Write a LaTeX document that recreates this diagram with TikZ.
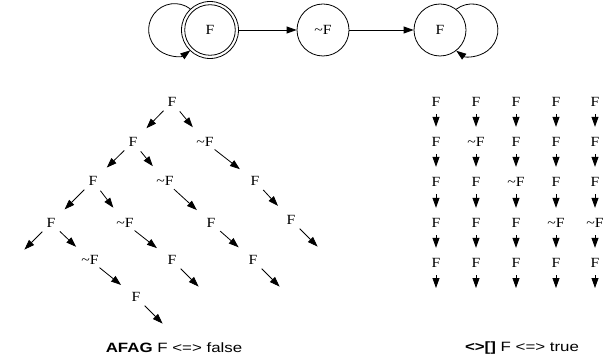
\documentclass[tikz,border=0pt]{standalone}
\usepackage{fontspec}
\setmainfont{Liberation Serif}[FakeStretch=1.12]
\newfontfamily\labfont{Liberation Sans}[FakeStretch=1.25]
\usetikzlibrary{arrows.meta}
\tikzset{
  arr/.style={-{Triangle[length=10pt,width=7pt]}, line width=0.8pt},
  st/.style={circle, draw, line width=0.8pt, minimum size=52pt, inner sep=0pt, font=\fontsize{14}{14}\selectfont},
  tn/.style={circle, minimum size=24pt, inner sep=0pt, font=\fontsize{14}{14}\selectfont},
  tedge/.style={arr, shorten >=7pt},
  gedge/.style={arr, shorten >=3pt},
  lab/.style={font=\labfont\fontsize{13.5}{13.5}\selectfont, inner sep=0pt}
}
\newcommand{\nF}{\textasciitilde F}
\begin{document}
\begin{tikzpicture}[x=1pt,y=1pt]
\useasboundingbox (0,0) rectangle (605,359);
% automaton
\node[st, minimum size=57pt] (s0) at (210,329) {F};
\draw[line width=0.8pt] (s0.center) circle (25.3pt);
\node[st] (s1) at (323,329) {\nF};
\node[st] (s2) at (440,329) {F};
\draw[arr] (s0) -- (s1);
\draw[arr] (s1) -- (s2);
\draw[arr] (s0.133) arc[start angle=53, end angle=307, radius=26pt];
\draw[arr] (s2.52) arc[start angle=127, end angle=-127, radius=26pt];
% tree
\node[tn] (A0) at (172,257) {F};
\node[tn] (B0) at (133,217) {F};
\node[tn] (B1) at (205,217) {\nF};
\node[tn] (C0) at (93,178) {F};
\node[tn] (C1) at (165,178) {\nF};
\node[tn] (C2) at (255,178) {F};
\node[tn] (D0) at (51,136) {F};
\node[tn] (D1) at (125,136) {\nF};
\node[tn] (D2) at (211,136) {F};
\node[tn] (D3) at (291,139) {F};
\node[tn] (E1) at (90,99) {\nF};
\node[tn] (E2) at (172,99) {F};
\node[tn] (E3) at (253,99) {F};
\node[tn] (G0) at (136,62) {F};
\coordinate (L0) at (11,96);
\coordinate (L1) at (331,99);
\coordinate (L2) at (212,59);
\coordinate (L3) at (293,59);
\coordinate (L4) at (176,22);
\draw[tedge] (A0) -- (B0);
\draw[tedge] (A0) -- (B1);
\draw[tedge] (B0) -- (C0);
\draw[tedge] (B0) -- (C1);
\draw[tedge] (B1) -- (C2);
\draw[tedge] (C0) -- (D0);
\draw[tedge] (C0) -- (D1);
\draw[tedge] (C1) -- (D2);
\draw[tedge] (C2) -- (D3);
\draw[tedge] (D0) -- (E1);
\draw[tedge] (D1) -- (E2);
\draw[tedge] (D2) -- (E3);
\draw[tedge] (E1) -- (G0);
\draw[arr, shorten >=19pt] (D0) -- (L0);
\draw[arr, shorten >=19pt] (D3) -- (L1);
\draw[arr, shorten >=19pt] (E2) -- (L2);
\draw[arr, shorten >=19pt] (E3) -- (L3);
\draw[arr, shorten >=19pt] (G0) -- (L4);
% grid
\foreach \c/\x in {1/436,2/476,3/516,4/556,5/595} {
  \foreach \r/\y in {1/257,2/217,3/177,4/136,5/96} {
    \pgfmathtruncatemacro{\isn}{(\c==2 && \r==2) || (\c==3 && \r==3) || (\c==4 && \r==4) || (\c==5 && \r==4)}
    \ifnum\isn=1
      \node[tn] (g\c\r) at (\x,\y) {\nF};
    \else
      \node[tn] (g\c\r) at (\x,\y) {F};
    \fi
  }
  \coordinate (g\c6) at (\x,56);
  \foreach \r [evaluate=\r as \n using int(\r+1)] in {1,2,3,4} {
    \draw[gedge] (g\c\r) -- (g\c\n);
  }
  \draw[arr, shorten >=15pt] (g\c5) -- (g\c6);
}
% labels
\node[lab] (lf) at (174,11) {\textbf{AFAG} F <=> false};
\node[lab] (lt) at (522,11) {\textbf{<>[]} F <=> true};
\end{tikzpicture}
\end{document}
